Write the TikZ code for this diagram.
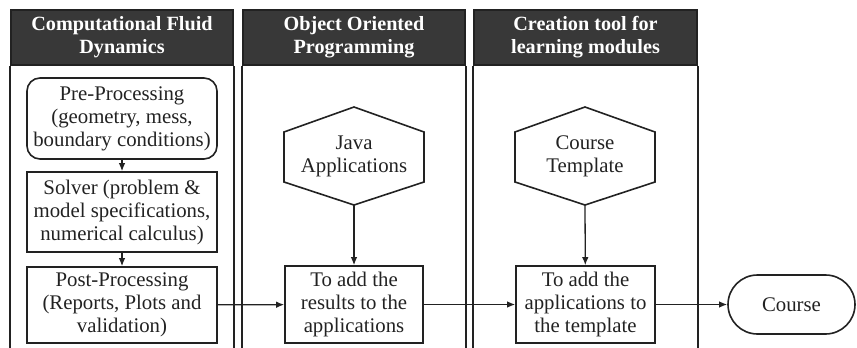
\documentclass[tikz,border=0pt]{standalone}
\usepackage{fontspec}
\setmainfont{Liberation Serif}
\usetikzlibrary{arrows.meta,shapes.misc,calc}
\definecolor{ink}{HTML}{222222}
\definecolor{headgray}{HTML}{383838}
\begin{document}
\begin{tikzpicture}[x=1pt,y=-1pt,
  bodyfont/.style={font=\fontsize{20.8}{23}\selectfont},
  lanehead/.style={fill=headgray,draw=ink,line width=1.6pt,text=white,
    font=\bfseries\fontsize{20.2}{23}\selectfont,align=center,inner sep=0pt,
    minimum height=55pt},
  laneline/.style={draw=ink,line width=1.6pt},
  procbox/.style={draw=ink,line width=1.6pt,align=center,bodyfont,inner sep=0pt,text=ink},
  hexline/.style={draw=ink,line width=1.6pt},
  hextext/.style={align=center,bodyfont,inner sep=0pt,text=ink},
  flow/.style={draw=ink,line width=1.3pt,-{Latex[length=8pt,width=6.5pt]}}
]
\useasboundingbox (0,0) rectangle (857,348);

% swimlane headers
\node[lanehead,minimum width=222pt] (h1) at (122,37.5) {Computational Fluid\\Dynamics};
\node[lanehead,minimum width=222pt] (h2) at (354,37.5) {Object Oriented\\Programming};
\node[lanehead,minimum width=223pt] (h3) at (585.5,37.5) {Creation tool for\\learning modules};

% swimlane side borders, open at the bottom
\foreach \h in {h1,h2,h3}{
  \draw[laneline] (\h.south west) -- (\h.south west |- 0,349);
  \draw[laneline] (\h.south east) -- (\h.south east |- 0,349);
}

% CFD lane
\node[procbox,rounded corners=13pt,minimum width=190pt,minimum height=81pt] (pre) at (122,118.5)
  {Pre-Processing\\(geometry, mess,\\boundary conditions)};
\node[procbox,minimum width=190pt,minimum height=80pt] (solver) at (122,212)
  {Solver (problem \&\\model specifications,\\numerical calculus)};
\node[procbox,minimum width=190pt,minimum height=76pt] (post) at (122,305)
  {Post-Processing\\(Reports, Plots and\\validation)};

% OOP lane
\node[hextext] (java) at (354,156) {Java\\Applications};
\draw[hexline] (354,107) -- (424,132) -- (424,182) -- (354,205) coordinate (javab)
  -- (284,182) -- (284,132) -- cycle;
\node[procbox,minimum width=138pt,minimum height=77pt] (results) at (354,304.5)
  {To add the\\results to the\\applications};

% learning-module lane
\node[hextext] (tmpl) at (585,156) {Course\\Template};
\draw[hexline] (585,107) -- (655,132) -- (655,182) -- (585,205) coordinate (tmplb)
  -- (515,182) -- (515,132) -- cycle;
\node[procbox,minimum width=139pt,minimum height=77pt] (apps) at (585.5,304.5)
  {To add the\\applications to\\the template};

% final product
\node[procbox,rounded rectangle,minimum width=127pt,minimum height=59pt] (course) at (791.5,304.5)
  {Course};

% connectors
\draw[flow] (pre) -- (solver);
\draw[flow] (solver) -- (post);
\draw[flow] (post) -- (results);
\draw[flow] (javab) -- (results);
\draw[flow] (results) -- (apps);
\draw[flow] (tmplb) -- (apps);
\draw[flow] (apps) -- (course);
\end{tikzpicture}
\end{document}
